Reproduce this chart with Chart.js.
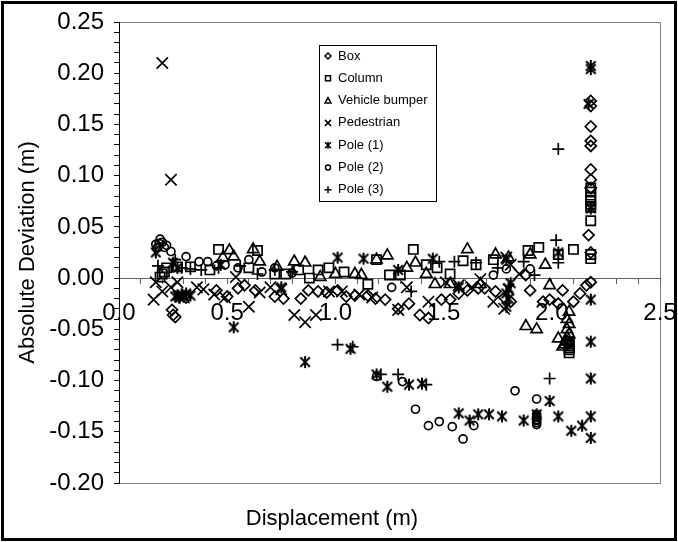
<!DOCTYPE html>
<html>
<head>
<meta charset="utf-8">
<script src="https://cdn.jsdelivr.net/npm/chart.js@4.4.1/dist/chart.umd.min.js"></script>
<style>
	html, body { margin: 0; padding: 0; background: #fff; }
	#frame { position: absolute; left: 1px; top: 1px; width: 676px; height: 540px; border: 3px solid #000; box-sizing: border-box; background: #fff; }
	canvas { display: block; }
</style>
</head>
<body>
<div id="frame"><canvas id="chart" width="670" height="534"></canvas></div>
<script>
// series values (displacement m, absolute deviation m)
const boxX = [0.245, 0.25, 0.26, 0.31, 0.45, 0.50, 0.55, 0.58, 0.63, 0.72, 0.76, 0.84, 0.875, 0.92, 0.96, 1.01, 1.05, 1.09, 1.15, 1.185, 1.23, 1.29, 1.34, 1.39, 1.43, 1.49, 1.53, 1.57, 1.61, 1.66, 1.69, 1.74, 1.78, 1.81, 1.88, 1.90, 1.96, 1.99, 2.03, 2.05, 2.10, 2.13, 2.16, 2.18, 2.18, 2.18, 2.18, 2.18, 2.18, 2.18, 2.18, 2.18, 2.18, 2.17];
const boxY = [-0.031, -0.036, -0.038, -0.019, -0.012, -0.018, -0.010, -0.007, -0.012, -0.018, -0.020, -0.020, -0.012, -0.013, -0.014, -0.012, -0.018, -0.017, -0.017, -0.020, -0.021, -0.030, -0.025, -0.036, -0.039, -0.021, -0.021, -0.015, -0.012, -0.010, -0.010, -0.013, -0.019, -0.023, 0.003, -0.012, -0.023, -0.021, -0.025, -0.012, -0.023, -0.015, -0.007, 0.173, 0.168, 0.148, 0.134, 0.129, 0.106, 0.096, 0.088, 0.025, -0.004, 0.042];

const colX = [0.19, 0.20, 0.21, 0.22, 0.27, 0.33, 0.42, 0.46, 0.60, 0.64, 0.72, 0.77, 0.83, 0.88, 0.92, 0.97, 1.04, 1.15, 1.19, 1.25, 1.30, 1.36, 1.42, 1.47, 1.53, 1.59, 1.65, 1.73, 1.89, 1.94, 2.03, 2.10, 2.08, 2.08, 2.08, 2.08, 2.08, 2.08, 2.18, 2.18, 2.18, 2.18, 2.18, 2.18, 2.18, 2.18, 2.18];
const colY = [0.001, 0.004, 0.006, 0.010, 0.011, 0.011, 0.008, 0.028, 0.010, 0.027, 0.004, 0.004, 0.008, 0.000, 0.008, 0.010, 0.006, -0.006, 0.018, 0.003, 0.003, 0.028, 0.013, 0.010, 0.004, 0.017, 0.013, 0.018, 0.027, 0.030, 0.023, 0.028, -0.062, -0.064, -0.066, -0.068, -0.070, -0.073, 0.088, 0.084, 0.079, 0.076, 0.072, 0.069, 0.056, 0.023, 0.019];

const bumperX = [0.48, 0.51, 0.53, 0.62, 0.65, 0.73, 0.81, 0.86, 0.93, 1.00, 1.09, 1.12, 1.19, 1.24, 1.33, 1.37, 1.42, 1.46, 1.53, 1.61, 1.67, 1.74, 1.80, 1.90, 1.97, 1.99, 1.88, 1.93, 2.03, 2.05, 2.07, 2.07, 2.07, 2.08, 2.06, 2.08, 2.08, 2.07];
const bumperY = [0.020, 0.027, 0.021, 0.028, 0.016, 0.011, 0.016, 0.015, 0.001, 0.004, 0.004, 0.003, 0.018, 0.022, 0.010, 0.015, 0.004, -0.006, -0.006, 0.028, -0.006, 0.023, 0.020, 0.023, 0.013, -0.007, -0.047, -0.050, -0.059, -0.067, -0.040, -0.050, -0.058, -0.033, -0.065, -0.045, -0.055, -0.062];

const pedX = [0.20, 0.24, 0.17, 0.16, 0.20, 0.24, 0.27, 0.30, 0.36, 0.39, 0.44, 0.49, 0.54, 0.60, 0.65, 0.70, 0.75, 0.81, 0.86, 0.91, 0.97, 1.03, 1.11, 1.17, 1.29, 1.33, 1.43, 1.51, 1.57, 1.63, 1.67, 1.73, 1.78, 1.80, 1.81, 1.85, 1.79];
const pedY = [0.210, 0.096, -0.004, -0.021, -0.013, -0.009, -0.004, -0.019, -0.009, -0.011, -0.016, -0.019, 0.001, -0.028, -0.014, -0.009, -0.011, -0.036, -0.043, -0.036, -0.013, -0.013, -0.016, -0.019, -0.031, -0.009, -0.023, -0.004, -0.007, -0.009, -0.001, -0.023, -0.030, -0.011, 0.013, 0.004, 0.020];

const pole1X = [0.17, 0.25, 0.27, 0.26, 0.27, 0.28, 0.29, 0.30, 0.31, 0.33, 0.47, 0.53, 0.75, 0.86, 1.01, 1.07, 1.13, 1.19, 1.24, 1.29, 1.34, 1.40, 1.45, 1.57, 1.57, 1.62, 1.66, 1.71, 1.77, 1.79, 1.80, 1.80, 1.79, 1.79, 1.81, 1.87, 1.93, 1.99, 2.03, 2.03, 2.09, 2.14, 2.18, 2.18, 2.18, 2.18, 2.18, 2.18, 2.18, 2.18, 2.17];
const pole1Y = [0.025, 0.015, 0.010, -0.018, -0.017, -0.019, -0.016, -0.018, -0.015, -0.017, 0.013, -0.048, -0.009, -0.082, 0.020, -0.069, 0.019, -0.094, -0.106, 0.008, -0.104, -0.103, 0.019, -0.009, -0.132, -0.139, -0.133, -0.133, -0.135, 0.018, -0.010, -0.020, -0.015, -0.028, -0.005, -0.139, -0.133, -0.120, -0.135, 0.025, -0.149, -0.144, -0.156, -0.135, -0.098, -0.062, -0.021, 0.207, 0.204, 0.068, 0.170];

const pole2X = [0.17, 0.175, 0.18, 0.185, 0.19, 0.20, 0.21, 0.22, 0.24, 0.31, 0.37, 0.41, 0.45, 0.49, 0.55, 0.60, 0.66, 0.72, 0.80, 1.26, 1.19, 1.31, 1.37, 1.43, 1.48, 1.54, 1.59, 1.64, 1.73, 1.79, 1.83, 1.90, 1.93, 1.93, 1.93, 1.93, 1.93, 1.93, 1.93, 1.93];
const pole2Y = [0.033, 0.029, 0.030, 0.034, 0.038, 0.035, 0.030, 0.032, 0.026, 0.021, 0.016, 0.016, 0.012, 0.013, 0.010, 0.018, 0.006, 0.010, 0.005, -0.009, -0.096, -0.101, -0.128, -0.144, -0.140, -0.145, -0.157, -0.144, 0.003, 0.009, -0.110, 0.009, -0.118, -0.133, -0.135, -0.136, -0.138, -0.139, -0.141, -0.143];

const pole3X = [0.18, 0.26, 0.29, 0.33, 0.38, 0.46, 0.56, 0.64, 0.72, 0.80, 1.01, 1.08, 1.21, 1.29, 1.35, 1.42, 1.48, 1.55, 1.65, 1.75, 1.87, 1.92, 1.99, 2.02, 2.03, 2.03];
const pole3Y = [0.012, 0.018, 0.010, 0.009, 0.008, 0.010, 0.012, 0.004, 0.008, 0.006, -0.065, -0.067, -0.094, -0.094, -0.013, -0.104, 0.016, 0.016, 0.015, 0.010, 0.016, 0.003, -0.098, 0.037, 0.015, 0.126];

const seriesNames = ["Box", "Column", "Vehicle bumper", "Pedestrian", "Pole (1)", "Pole (2)", "Pole (3)"];
const yTicksMin = -0.2, yTicksMax = 0.25, yMajor = 0.05, yMinor = 0.01;
const xTicksMin = 0, xTicksMax = 2.5, xMajor = 0.5, xMinor = 0.1;

const FONT = "Arial, 'Liberation Sans', sans-serif";
const PLOT = { left: 115, top: 18, right: 656, bottom: 479 };

function pts(xs, ys) {
	return xs.map((x, i) => ({ x, y: ys[i] }));
}

// six-armed asterisk used by Pole (1)
function asterisk(size, lw) {
	const c = document.createElement("canvas");
	c.width = c.height = size;
	const g = c.getContext("2d");
	const m = size / 2, r = size / 2 - 1;
	g.strokeStyle = "#000";
	g.lineWidth = lw;
	g.beginPath();
	g.moveTo(m - r * 0.8, m - r * 0.8); g.lineTo(m + r * 0.8, m + r * 0.8);
	g.moveTo(m + r * 0.8, m - r * 0.8); g.lineTo(m - r * 0.8, m + r * 0.8);
	g.moveTo(m, m - r); g.lineTo(m, m + r);
	g.stroke();
	return c;
}

const styles = [
	{ pointStyle: "rectRot", radius: 5.5 },
	{ pointStyle: "rect", radius: 6.5 },
	{ pointStyle: "triangle", radius: 6.5 },
	{ pointStyle: "crossRot", radius: 8 },
	{ pointStyle: asterisk(14, 2), radius: 7 },
	{ pointStyle: "circle", radius: 4 },
	{ pointStyle: "cross", radius: 6 }
];
const dataSets = [pts(boxX, boxY), pts(colX, colY), pts(bumperX, bumperY), pts(pedX, pedY), pts(pole1X, pole1Y), pts(pole2X, pole2Y), pts(pole3X, pole3Y)];

const datasets = seriesNames.map((name, i) => ({
	label: name,
	data: dataSets[i],
	pointStyle: styles[i].pointStyle,
	pointRadius: styles[i].radius,
	borderColor: "#000",
	backgroundColor: "rgba(0,0,0,0)",
	borderWidth: 1.7,
	showLine: false
}));

function legendMarker(ctx, i, x, y) {
	const r = 3;
	ctx.beginPath();
	switch (i) {
		case 0: ctx.moveTo(x, y - r); ctx.lineTo(x + r, y); ctx.lineTo(x, y + r); ctx.lineTo(x - r, y); ctx.closePath(); break;
		case 1: ctx.rect(x - 2.5, y - 2.5, 5, 5); break;
		case 2: ctx.moveTo(x, y - r); ctx.lineTo(x + r, y + 2.5); ctx.lineTo(x - r, y + 2.5); ctx.closePath(); break;
		case 3: ctx.moveTo(x - r, y - r); ctx.lineTo(x + r, y + r); ctx.moveTo(x + r, y - r); ctx.lineTo(x - r, y + r); break;
		case 4: ctx.moveTo(x - r, y - r); ctx.lineTo(x + r, y + r); ctx.moveTo(x + r, y - r); ctx.lineTo(x - r, y + r); ctx.moveTo(x, y - r - 0.5); ctx.lineTo(x, y + r + 0.5); break;
		case 5: ctx.arc(x, y, 2.5, 0, Math.PI * 2); break;
		case 6: ctx.moveTo(x - r - 0.5, y); ctx.lineTo(x + r + 0.5, y); ctx.moveTo(x, y - r - 0.5); ctx.lineTo(x, y + r + 0.5); break;
	}
	ctx.stroke();
}

const framePlugin = {
	id: "frame",
	afterLayout(chart) {
		// pin the plot area to where the original has it
		const a = chart.chartArea;
		Object.assign(a, PLOT, { width: PLOT.right - PLOT.left, height: PLOT.bottom - PLOT.top });
		const x = chart.scales.x, y = chart.scales.y;
		x.left = PLOT.left; x.right = PLOT.right; x.width = PLOT.right - PLOT.left;
		x.configure();
		y.top = PLOT.top; y.bottom = PLOT.bottom; y.height = PLOT.bottom - PLOT.top;
		y.left = 0; y.right = PLOT.left; y.width = PLOT.left;
		y.configure();
	},
	beforeDraw(chart) {
		const { ctx, chartArea: a } = chart;
		ctx.save();
		ctx.strokeStyle = "#808080";
		ctx.lineWidth = 1;
		ctx.strokeRect(Math.round(a.left) + 0.5, Math.round(a.top) + 0.5, Math.round(a.right - a.left), Math.round(a.bottom - a.top));
		ctx.restore();
	},
	afterDraw(chart) {
		// legend box inside the plot
		const ctx = chart.ctx;
		const bx = 315, by = 41, bw = 117, bh = 156;
		ctx.save();
		ctx.fillStyle = "#fff";
		ctx.fillRect(bx, by, bw, bh);
		ctx.strokeStyle = "#000";
		ctx.lineWidth = 1;
		ctx.strokeRect(bx + 0.5, by + 0.5, bw, bh);
		ctx.font = "13px " + FONT;
		ctx.textBaseline = "middle";
		ctx.fillStyle = "#000";
		seriesNames.forEach((name, i) => {
			const y = by + 11 + i * 22.3;
			ctx.lineWidth = 1.5;
			legendMarker(ctx, i, bx + 9, y);
			ctx.fillText(name, bx + 19, y);
		});
		ctx.restore();
	}
};

new Chart(document.getElementById("chart"), {
	type: "scatter",
	data: { datasets },
	plugins: [framePlugin],
	options: {
		responsive: false,
		animation: false,
		events: [],
		layout: { padding: { left: 0, right: 14, top: 18, bottom: 0 } },
		plugins: {
			legend: { display: false },
			tooltip: { enabled: false },
			title: {
				display: true,
				position: "bottom",
				text: "Displacement (m)",
				color: "#000",
				font: { family: FONT, size: 22, weight: "normal" },
				padding: { top: 22, bottom: 6 }
			}
		},
		scales: {
			x: {
				type: "linear",
				position: { y: 0 },
				min: xTicksMin,
				max: xTicksMax,
				ticks: {
					stepSize: xMinor,
					autoSkip: false,
					maxRotation: 0,
					padding: 16,
					color: "#000",
					font: { family: FONT, size: 24 },
					callback: (v) => {
						const k = v / xMajor;
						return Math.abs(k - Math.round(k)) < 1e-6 ? Number(v).toFixed(1) : "";
					}
				},
				grid: { drawOnChartArea: false, drawTicks: true, tickLength: 5, color: "#606060" },
				border: { display: true, color: "#606060", width: 1 }
			},
			y: {
				type: "linear",
				min: yTicksMin,
				max: yTicksMax,
				afterFit: (s) => { s.width = 115; },
				title: {
					display: true,
					text: "Absolute Deviation (m)",
					color: "#000",
					font: { family: FONT, size: 22, weight: "normal" },
					padding: { top: 11, bottom: 0 }
				},
				ticks: {
					stepSize: yMinor,
					autoSkip: false,
					padding: 10,
					color: "#000",
					font: { family: FONT, size: 24 },
					callback: (v) => {
						const k = Math.round(v * 100);
						return k % Math.round(yMajor * 100) === 0 ? (k / 100).toFixed(2) : "";
					}
				},
				grid: { drawOnChartArea: false, drawTicks: true, tickLength: 5, color: "#000" },
				border: { display: true, color: "#000", width: 1 }
			}
		}
	}
});
</script>
</body>
</html>
